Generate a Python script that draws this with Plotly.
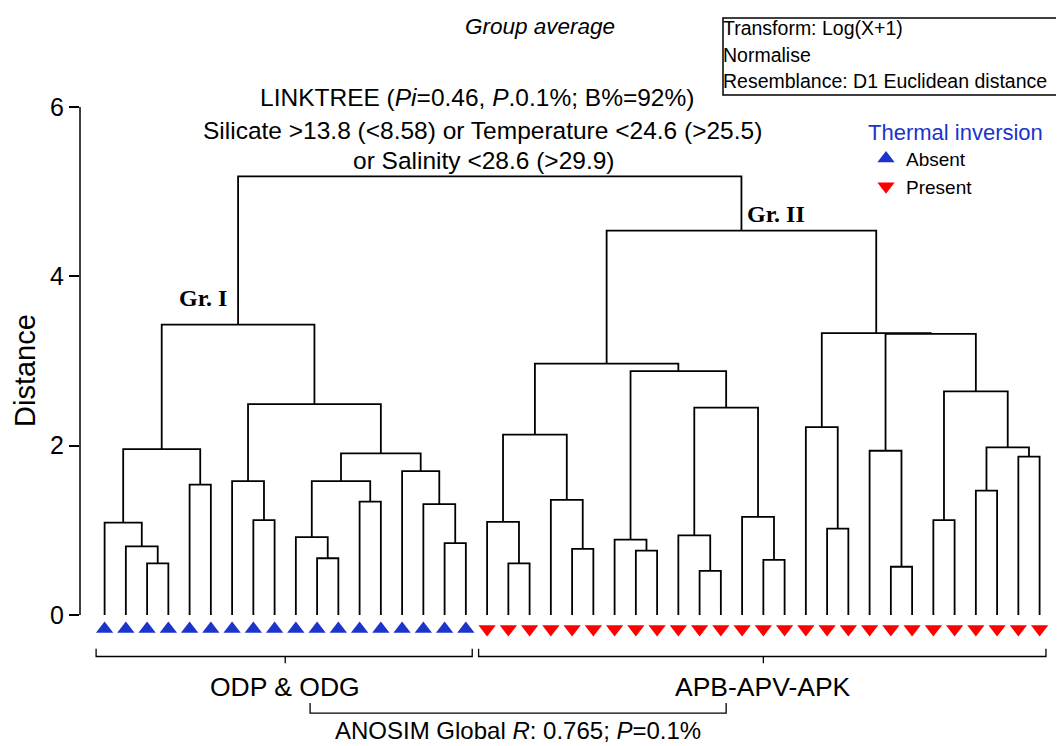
import plotly.graph_objects as go

# ---------------- data ----------------
leaf_groups = ["Absent"] * 18 + ["Present"] * 27          # thermal inversion per sample (dendrogram order)
# agglomeration steps (group average); leaves are 0..44, new clusters get ids 45, 46, ...
merge_left = [2, 1, 0, 4, 47, 7, 6, 10, 9, 12, 53, 16, 15, 14, 55, 51, 49,
              19, 18, 22, 21, 63, 25, 24, 28, 27, 31, 30, 70, 68, 66,
              34, 33, 37, 36, 39, 41, 43, 81, 80, 79, 77, 75, 61]
merge_right = [3, 45, 46, 5, 48, 8, 50, 11, 52, 13, 54, 17, 56, 57, 58, 59, 60,
               20, 62, 23, 64, 65, 26, 67, 29, 69, 32, 71, 72, 73, 74,
               35, 76, 38, 78, 40, 42, 44, 82, 83, 84, 85, 86, 87]
merge_height = [0.61, 0.81, 1.09, 1.54, 1.96, 1.12, 1.58, 0.67, 0.92, 1.34, 1.58, 0.85, 1.31, 1.70, 1.91, 2.49, 3.43,
                0.61, 1.10, 0.78, 1.36, 2.13, 0.76, 0.89, 0.52, 0.94, 0.65, 1.16, 2.45, 2.88, 2.97,
                1.02, 2.22, 0.57, 1.94, 1.12, 1.47, 1.87, 1.98, 2.64, 3.32, 3.33, 4.54, 5.18]
group_labels = {"Absent": "ODP & ODG", "Present": "APB-APV-APK"}
group_node_labels = {"Gr. I": 16, "Gr. II": 42}   # merge step index of each LINKTREE group
y_ticks = [0, 2, 4, 6]

# ---------------- geometry helpers ----------------
OFF = 8                      # page body margin
W, H = 1064 - OFF, 746 - OFF
ML = 80 - OFF                # plot area starts at page x = 80
def px_x(px):
    return (px - OFF - ML) / (W - ML)
def px_y(py):
    return (H - (py - OFF)) / H

BLUE = "#1c33cc"
RED = "#ff0000"
FONT = "Liberation Sans, Arial, sans-serif"
SERIF = "Liberation Serif, Times New Roman, serif"

n = len(leaf_groups)
pos = {i: float(i) for i in range(n)}
hgt = {i: 0.0 for i in range(n)}
xs, ys = [], []
for k, (a, b, h) in enumerate(zip(merge_left, merge_right, merge_height)):
    xa, xb = pos[a], pos[b]
    xs += [xa, xa, xb, xb, None]
    ys += [hgt[a], h, h, hgt[b], None]
    pos[n + k] = (xa + xb) / 2
    hgt[n + k] = h

fig = go.Figure()
fig.add_trace(go.Scatter(x=xs, y=ys, mode="lines", line=dict(color="black", width=1.8),
                         showlegend=False, hoverinfo="skip"))

marker_y = -0.165
for g, sym, col in [("Absent", "triangle-up", BLUE), ("Present", "triangle-down", RED)]:
    idx = [i for i, v in enumerate(leaf_groups) if v == g]
    fig.add_trace(go.Scatter(x=idx, y=[marker_y] * len(idx), mode="markers", name=g,
                             marker=dict(symbol=sym, size=15, color=col, line=dict(width=0))))

# group brackets under the leaves
bx, by = [], []
annotations = []
centers = {}
for g in ["Absent", "Present"]:
    idx = [i for i, v in enumerate(leaf_groups) if v == g]
    lo, hi = min(idx) - 0.4, max(idx) + 0.3
    c = (min(idx) + max(idx)) / 2
    centers[g] = c
    bx += [lo, lo, hi, hi, None, c, c, None]
    by += [-0.40, -0.49, -0.49, -0.40, None, -0.49, -0.57, None]
    annotations.append(dict(x=c, y=-0.85, xref="x", yref="y", text=group_labels[g], showarrow=False,
                            xanchor="center", yanchor="middle",
                            font=dict(family=FONT, size=26.5, color="black")))
# ANOSIM bracket
a0, a1 = centers["Absent"] + 1.17, centers["Present"] - 1.75
bx += [a0, a0, a1, a1]
by += [-1.04, -1.16, -1.16, -1.04]
fig.add_trace(go.Scatter(x=bx, y=by, mode="lines", line=dict(color="black", width=1.3),
                         showlegend=False, hoverinfo="skip"))
annotations.append(dict(x=(a0 + a1) / 2, y=px_y(746), xref="x", yref="paper",
                        text="ANOSIM Global <i>R</i>: 0.765; <i>P</i>=0.1%", showarrow=False,
                        xanchor="center", yanchor="bottom",
                        font=dict(family=FONT, size=24, color="black")))

# group names on tree
gi = n + group_node_labels["Gr. I"]
annotations.append(dict(x=pos[gi], y=hgt[gi], xref="x", yref="y", text="Gr. I", showarrow=False,
                        xanchor="right", yanchor="middle", xshift=-9, yshift=27,
                        font=dict(family=SERIF, size=24, color="black", weight="bold")))
gii = n + group_node_labels["Gr. II"]
annotations.append(dict(x=pos[gii], y=hgt[gii], xref="x", yref="y", text="Gr. II", showarrow=False,
                        xanchor="left", yanchor="middle", xshift=4, yshift=17,
                        font=dict(family=SERIF, size=24, color="black", weight="bold")))

# texts
def ptext(txt, x, y, size, xanchor="center", angle=0):
    return dict(x=px_x(x), y=px_y(y), xref="paper", yref="paper", text=txt, showarrow=False,
                xanchor=xanchor, yanchor="middle", textangle=angle,
                font=dict(family=FONT, size=size, color="black"))

annotations += [
    ptext("<i>Group average</i>", 540, 26, 22.5),
    ptext("LINKTREE (<i>Pi</i>=0.46, <i>P</i>.0.1%; B%=92%)", 477, 97, 24.5),
    ptext("Silicate >13.8 (<8.58) or Temperature <24.6 (>25.5)", 482, 131, 24.5),
    ptext("or Salinity <28.6 (>29.9)", 484, 160, 24.5),
    ptext("Distance", 25, 371, 29, angle=-90),
]
for txt, py in [("Transform: Log(X+1)", 28), ("Normalise", 55), ("Resemblance: D1 Euclidean distance", 81)]:
    annotations.append(ptext(txt, 721, py, 19.5, xanchor="left"))

shapes = [
    dict(type="line", xref="paper", yref="y", x0=0, x1=0, y0=0, y1=6, line=dict(color="black", width=1.5)),
    dict(type="rect", xref="paper", yref="paper", x0=px_x(723), x1=px_x(1061), y0=px_y(18), y1=px_y(95),
         line=dict(color="black", width=1.5)),
]

x0 = -(104.6 - 80) / 21.25
x1 = x0 + (W - ML) / 21.25
y0 = -(746 - 615) / 84.67
y1 = y0 + H / 84.67

fig.update_layout(
    width=W, height=H,
    margin=dict(l=ML, r=0, t=0, b=0, pad=0),
    paper_bgcolor="white", plot_bgcolor="white",
    xaxis=dict(range=[x0, x1], visible=False),
    yaxis=dict(range=[y0, y1], tickvals=y_ticks, ticks="outside", ticklen=10, tickwidth=1.5,
               tickcolor="black", showline=False, showgrid=False, zeroline=False,
               tickfont=dict(family=FONT, size=25, color="black"), ticklabelstandoff=0),
    showlegend=True,
    legend=dict(x=px_x(866), y=px_y(111), xanchor="left", yanchor="top", bgcolor="rgba(0,0,0,0)",
                title=dict(text="Thermal inversion", font=dict(family=FONT, size=22, color=BLUE)),
                font=dict(family=FONT, size=19, color="black")),
    annotations=annotations,
    shapes=shapes,
)
fig.write_html("out.html")
